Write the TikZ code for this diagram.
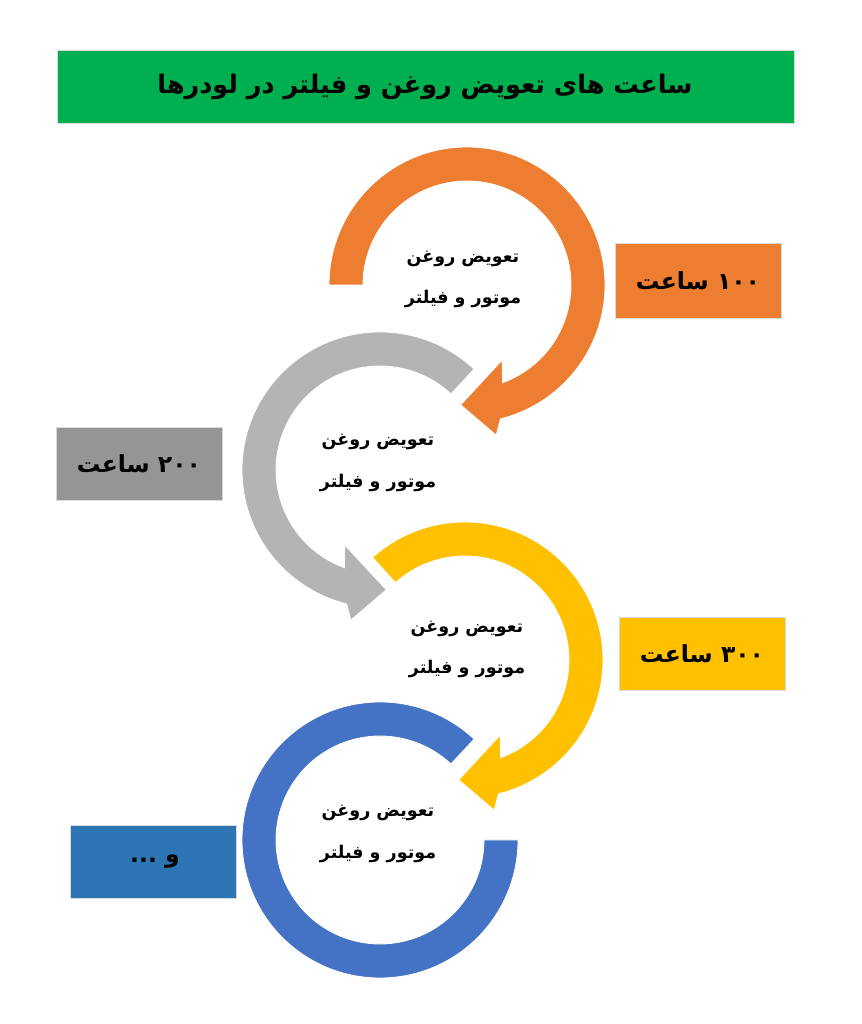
\documentclass[tikz,border=0pt]{standalone}
\usepackage{fontspec}
\TeXXeTstate=1
\newfontfamily\fa[Script=Arabic]{DejaVu Sans}
\definecolor{cgreen}{HTML}{00B050}
\definecolor{corange}{HTML}{ED7D31}
\definecolor{cgrayarc}{HTML}{B4B4B4}
\definecolor{cgraybox}{HTML}{959595}
\definecolor{cyellow}{HTML}{FFC000}
\definecolor{cbluearc}{HTML}{4472C4}
\definecolor{cbluebox}{HTML}{2E75B6}
\tikzset{
  band/.style={draw=white, line width=0.8pt, line join=miter},
  box/.style={draw=white!85!black, line width=0.6pt},
  intext/.style={font=\fa\bfseries\fontsize{17.5}{20}\selectfont, inner sep=0pt, anchor=center},
  boxtext/.style={font=\fa\bfseries\fontsize{23.5}{26}\selectfont, inner sep=0pt, anchor=center},
}
\begin{document}
\begin{tikzpicture}[x=1pt,y=1pt]
\useasboundingbox[fill=white] (0,0) rectangle (861,1024);

% title
\fill[cgreen, box] (57,901) rectangle (794,974);
\node[font=\fa\bfseries\fontsize{25.5}{28}\selectfont, inner sep=0pt] (title) at (425,937) {\beginR ساعت های تعویض روغن و فیلتر در لودرها\endR};

% blue ring
\begin{scope}[shift={(380,184)}]
\fill[cbluearc, band] (47:138) arc[start angle=47, end angle=360, radius=138pt] -- (0:104) arc[start angle=360, end angle=47, radius=104pt] -- cycle;
\end{scope}
% yellow arrow (clockwise)
\begin{scope}[shift={(465,364)}]
\fill[cyellow, band] (132:138) arc[start angle=132, end angle=-76, radius=138pt] -- (-79:153) -- (-93:120) -- (-65:83) -- (-70:104) arc[start angle=-70, end angle=132, radius=104pt] -- cycle;
\end{scope}
% gray arrow (counter-clockwise)
\begin{scope}[shift={(380,554)}]
\fill[cgrayarc, band] (47:138) arc[start angle=47, end angle=256, radius=138pt] -- (259:153) -- (273:120) -- (245:83) -- (250:104) arc[start angle=250, end angle=47, radius=104pt] -- cycle;
\end{scope}
% orange arrow (clockwise)
\begin{scope}[shift={(467,739)}]
\fill[corange, band] (180:138) arc[start angle=180, end angle=-76, radius=138pt] -- (-79:153) -- (-93:120) -- (-65:83) -- (-70:104) arc[start angle=-70, end angle=180, radius=104pt] -- cycle;
\end{scope}

% side boxes
\fill[corange, box] (615,706) rectangle (781,781);
\node[boxtext] (b1) at (698,743) {\beginR ۱۰۰ ساعت\endR};
\fill[cgraybox, box] (56,524) rectangle (222,597);
\node[boxtext] (b2) at (139,560) {\beginR ۲۰۰ ساعت\endR};
\fill[cyellow, box] (619,334) rectangle (785,407);
\node[boxtext] (b3) at (702,370) {\beginR ۳۰۰ ساعت\endR};
\fill[cbluebox, box] (70,126) rectangle (236,199);
\node[boxtext] (b4) at (155,162) {\beginR و ...\endR};

% circle texts
\node[intext] (o1) at (463,765) {\beginR تعویض روغن\endR};
\node[intext] (o2) at (463,725) {\beginR موتور و فیلتر\endR};
\node[intext] (g1) at (378,582) {\beginR تعویض روغن\endR};
\node[intext] (g2) at (378,541) {\beginR موتور و فیلتر\endR};
\node[intext] (y1) at (467,395) {\beginR تعویض روغن\endR};
\node[intext] (y2) at (467,355) {\beginR موتور و فیلتر\endR};
\node[intext] (u1) at (378,211) {\beginR تعویض روغن\endR};
\node[intext] (u2) at (378,170) {\beginR موتور و فیلتر\endR};
\end{tikzpicture}
\end{document}
